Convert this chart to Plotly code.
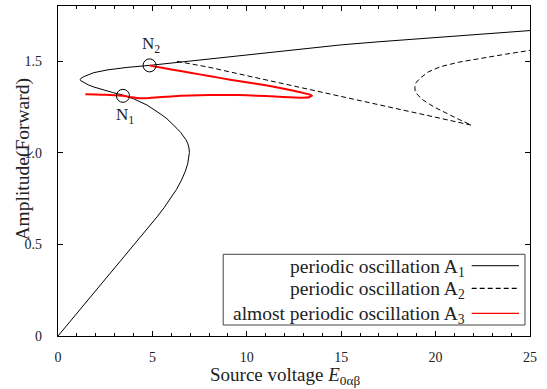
import plotly.graph_objects as go

# ---- data ----
a1_x = [0, 0.81, 1.62, 2.43, 3.24, 4.06, 4.85, 5.25, 5.62, 5.96, 6.28, 6.54, 6.75, 6.87, 6.93, 6.96,
        6.94, 6.88, 6.78, 6.65, 6.5, 6.3, 6.05, 5.77, 5.5, 5.2, 4.71, 4.0, 3.44, 2.9, 2.41, 1.9, 1.6,
        1.4, 1.26, 1.19, 1.18, 1.22, 1.35, 1.6, 1.88, 2.6, 3.65, 4.85, 7, 9, 11, 13, 15, 17, 19, 21, 23, 25]
a1_y = [0, 0.1, 0.2, 0.3, 0.4, 0.5, 0.6, 0.65, 0.7, 0.75, 0.8, 0.85, 0.9, 0.94, 0.97, 1.0,
        1.025, 1.048, 1.07, 1.092, 1.11, 1.132, 1.158, 1.185, 1.206, 1.228, 1.26, 1.294, 1.314, 1.328,
        1.342, 1.358, 1.37, 1.38, 1.388, 1.394, 1.40, 1.406, 1.414, 1.426, 1.436, 1.451, 1.465, 1.476,
        1.50, 1.522, 1.546, 1.568, 1.588, 1.605, 1.620, 1.636, 1.651, 1.666]

a2_x = [6.3, 8, 10, 12, 14, 16, 18, 20, 21.9, 21.2, 20.58, 19.9, 19.34, 19.05, 18.92, 18.9, 18.95, 19.17,
        19.6, 20.23, 21.2, 22.35, 23.7, 25]
a2_y = [1.498, 1.466, 1.42, 1.374, 1.328, 1.282, 1.236, 1.19, 1.150, 1.183, 1.214, 1.25, 1.287, 1.315,
        1.335, 1.355, 1.38, 1.405, 1.44, 1.468, 1.493, 1.514, 1.537, 1.558]

a3_x = [1.45, 2.0, 2.5, 3.0, 3.44, 3.9, 4.3, 4.8, 5.5, 6.5, 7.5, 8.5, 9.5, 10.5, 11.5, 12.3, 12.9, 13.3,
        13.45, 13.3, 12.9, 12.3, 11.5, 10.5, 9.12, 8, 7, 6, 5.0, 4.85]
a3_y = [1.318, 1.317, 1.316, 1.313, 1.31, 1.302, 1.297, 1.298, 1.303, 1.31, 1.313, 1.315, 1.314, 1.311,
        1.306, 1.302, 1.300, 1.302, 1.311, 1.318, 1.328, 1.342, 1.358, 1.376, 1.398, 1.418, 1.436, 1.454,
        1.472, 1.476]

n_x = [3.44, 4.85]
n_y = [1.31, 1.476]
n_labels = ["N<sub>1</sub>", "N<sub>2</sub>"]
n_label_y = [1.20, 1.59]

legend_names = ["periodic oscillation A<sub>1</sub>",
                "periodic oscillation A<sub>2</sub>",
                "almost periodic oscillation A<sub>3</sub>"]

x_ticks = [0, 5, 10, 15, 20, 25]
y_ticks = [0, 0.5, 1.0, 1.5]
y_ticktext = ["0", "0.5", "1.0", "1.5"]

FONT = "Liberation Serif, Times New Roman, serif"

fig = go.Figure()
fig.add_trace(go.Scatter(x=a1_x, y=a1_y, mode="lines", line=dict(color="black", width=1)))
fig.add_trace(go.Scatter(x=a2_x, y=a2_y, mode="lines",
                         line=dict(color="black", width=1, dash="5px,3px")))
fig.add_trace(go.Scatter(x=a3_x, y=a3_y, mode="lines",
                         line=dict(color="#ff0000", width=2, shape="spline", smoothing=0.4)))
fig.add_trace(go.Scatter(x=n_x, y=n_y, mode="markers",
                         marker=dict(symbol="circle-open", size=13, color="black", line=dict(width=1))))

for xx, yy, t in zip(n_x, n_label_y, n_labels):
    fig.add_annotation(x=xx + 0.1, y=yy, text=t, showarrow=False, font=dict(family=FONT, size=17, color="#222"))

# custom legend (symbols on the right, as in reference)
fig.add_shape(type="rect", xref="paper", yref="paper", x0=0.350, x1=0.9894, y0=0.0333, y1=0.2476,
              line=dict(color="#444", width=1), fillcolor="white", layer="above")
row_y = [0.213, 0.1445, 0.0688]
row_dash = ["solid", "5px,3px", "solid"]
row_color = ["#333", "black", "#ff0000"]
for name, ry, dsh, col in zip(legend_names, row_y, row_dash, row_color):
    fig.add_annotation(xref="paper", yref="paper", x=0.866, y=ry, text=name, showarrow=False,
                       xanchor="right", yanchor="middle", yshift=-2,
                       font=dict(family=FONT, size=19.5, color="#222"))
    fig.add_shape(type="line", xref="paper", yref="paper", x0=0.8765, x1=0.9767, y0=ry, y1=ry,
                  line=dict(color=col, width=1.2, dash=dsh), layer="above")

# axis titles
fig.add_annotation(xref="paper", yref="paper", x=0.481, y=-0.122, text="Source voltage <i>E</i><sub>0αβ</sub>",
                   showarrow=False, xanchor="center", yanchor="middle",
                   font=dict(family=FONT, size=19, color="#222"))
fig.add_annotation(xref="paper", yref="paper", x=-0.074, y=0.535, text="Amplitude(Forward)", textangle=-90,
                   showarrow=False, xanchor="center", yanchor="middle",
                   font=dict(family=FONT, size=19.5, color="#222"))

fig.update_layout(
    width=547, height=389,
    margin=dict(l=58, r=17, t=6, b=53),
    paper_bgcolor="white", plot_bgcolor="white",
    showlegend=False,
    font=dict(family=FONT, size=14, color="#222"),
)
fig.update_xaxes(range=[0, 25], tickvals=x_ticks, ticks="inside", ticklen=5, tickcolor="black",
                 showline=True, linecolor="black", linewidth=1.3, mirror="allticks", showgrid=False,
                 zeroline=False, ticklabelstandoff=8,
                 minor=dict(dtick=1, ticks="inside", ticklen=3, tickcolor="black", showgrid=False))
fig.update_yaxes(range=[0, 1.8], tickvals=y_ticks, ticktext=y_ticktext, ticks="inside", ticklen=5,
                 tickcolor="black", showline=True, linecolor="black", linewidth=1.3, mirror="allticks",
                 showgrid=False, zeroline=False, ticklabelstandoff=12)

fig.write_html("out.html", config={"displayModeBar": False},
               post_script="document.body.style.margin='0';document.body.style.padding='0';")
